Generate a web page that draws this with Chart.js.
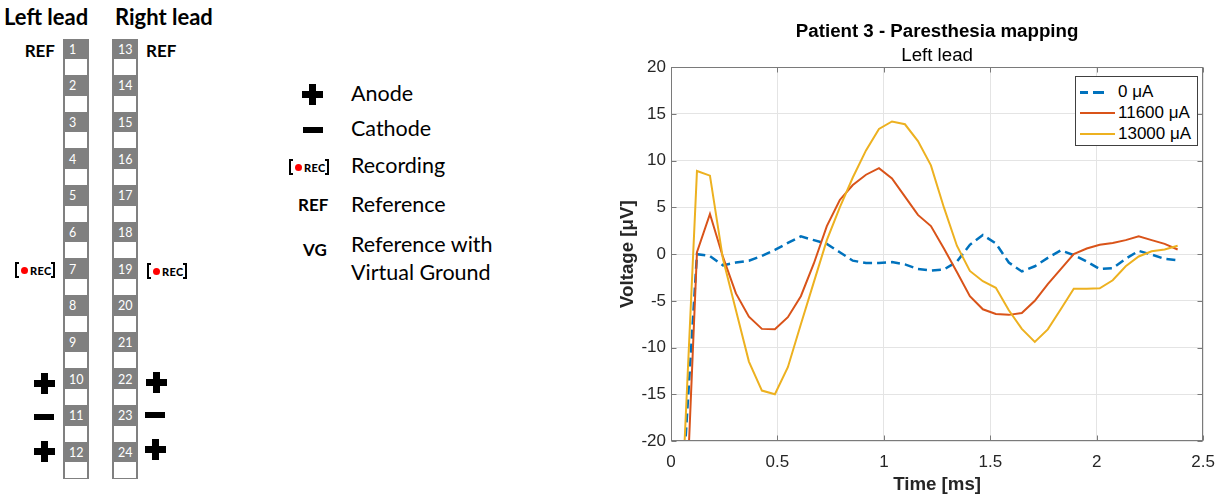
<!DOCTYPE html>
<html><head><meta charset="utf-8">
<script src="https://cdn.jsdelivr.net/npm/chart.js@4/dist/chart.umd.min.js"></script>
<style>
html,body{margin:0;padding:0;background:#fff;}
#page{position:relative;width:1226px;height:496px;overflow:hidden;font-family:Lato,"Open Sans",sans-serif;color:#000;}
.t{position:absolute;line-height:1;white-space:nowrap;transform:translateY(-50%);}
.hd{font-weight:700;font-size:22px;}
.col{position:absolute;width:26px;height:440px;background:#808080;}
.win{position:absolute;left:2px;width:22px;height:16px;background:#fff;}
.num{position:absolute;left:6px;color:#fff;font-size:12.5px;line-height:12px;}
.tag{font-weight:700;font-size:17px;}
.plus{position:absolute;width:21px;height:21px;}
.plus::before{content:"";position:absolute;left:0;top:7px;width:21px;height:7px;background:#000;}
.plus::after{content:"";position:absolute;left:7px;top:0;width:7px;height:21px;background:#000;}
.minus{position:absolute;width:20px;height:6px;background:#000;}
.rec{position:absolute;display:flex;align-items:center;height:16px;transform:translateY(-50%);}
.rec .bl,.rec .br{width:2px;height:12px;border:2px solid #000;}
.rec .bl{border-right:none;}
.rec .br{border-left:none;}
.rec .dot{width:7px;height:7px;border-radius:50%;background:#f00;margin:0 2px 0 2px;}
.rec b{font-size:11px;line-height:1;font-weight:900;letter-spacing:0.3px;}
.lg{left:351px;font-size:21.5px;}
#chartBox{position:absolute;left:590px;top:0;width:636px;height:496px;}
#legend{position:absolute;left:1075px;top:76px;width:123px;height:70px;border:1px solid #404040;background:#fff;box-sizing:border-box;font-family:"Liberation Sans",Arial,sans-serif;font-size:17px;color:#000;}
#legend .row{position:absolute;left:0;width:120px;height:20px;}
#legend .smp{position:absolute;left:4px;top:9px;width:35px;height:2px;}
#legend .lab{position:absolute;left:42px;top:0;line-height:20px;white-space:nowrap;}
</style>
</head>
<body>
<div id="page">
  <div class="t hd" style="left:4px;top:17px;">Left lead</div>
  <div class="t hd" style="left:115px;top:17px;">Right lead</div>
  <div id="colL" class="col" style="left:63px;top:39px;"></div>
  <div id="colR" class="col" style="left:112px;top:39px;"></div>

  <div class="t tag" style="right:1171px;top:50px;">REF</div>
  <div class="t tag" style="left:146px;top:50px;">REF</div>

  <div class="rec" style="left:15px;top:270px;"><span class="bl"></span><span class="dot"></span><b>REC</b><span class="br"></span></div>
  <div class="rec" style="left:147px;top:271px;"><span class="bl"></span><span class="dot"></span><b>REC</b><span class="br"></span></div>

  <div class="plus" style="left:34px;top:373px;"></div>
  <div class="plus" style="left:146px;top:372px;"></div>
  <div class="minus" style="left:34px;top:414px;"></div>
  <div class="minus" style="left:145px;top:412px;"></div>
  <div class="plus" style="left:34px;top:441px;"></div>
  <div class="plus" style="left:145px;top:439px;"></div>

  <div class="plus" style="left:302px;top:84px;"></div>
  <div class="minus" style="left:303px;top:127px;"></div>
  <div class="rec" style="left:289px;top:167px;"><span class="bl"></span><span class="dot"></span><b>REC</b><span class="br"></span></div>
  <div class="t tag" style="left:298px;top:204px;">REF</div>
  <div class="t tag" style="left:303px;top:249px;">VG</div>

  <div class="t lg" style="top:94px;">Anode</div>
  <div class="t lg" style="top:129px;">Cathode</div>
  <div class="t lg" style="top:165.5px;">Recording</div>
  <div class="t lg" style="top:204.5px;">Reference</div>
  <div class="t lg" style="top:244.5px;">Reference with</div>
  <div class="t lg" style="top:272.5px;">Virtual Ground</div>

  <div id="chartBox"><canvas id="c"></canvas></div>
  <div id="legend"></div>
</div>
<script>
// ---------------- data ----------------
const times = [0.061, 0.122, 0.183, 0.244, 0.305, 0.366, 0.427, 0.488, 0.549, 0.610,
               0.671, 0.732, 0.793, 0.854, 0.916, 0.977, 1.038, 1.099, 1.160, 1.221,
               1.282, 1.343, 1.404, 1.465, 1.526, 1.587, 1.648, 1.709, 1.770, 1.831,
               1.892, 1.953, 2.014, 2.075, 2.136, 2.197, 2.258, 2.319, 2.380];
const v0uA = [-22.5, 0.0, -0.2, -1.2, -0.9, -0.7, -0.2, 0.45, 1.2, 1.9,
              1.5, 1.1, 0.2, -0.7, -0.95, -0.95, -0.85, -1.1, -1.6, -1.75,
              -1.65, -0.8, 1.0, 2.05, 1.15, -0.9, -1.85, -1.3, -0.4, 0.4,
              -0.1, -0.8, -1.6, -1.5, -0.5, 0.35, -0.05, -0.5, -0.65];
const v11600uA = [-33, 0.2, 4.3, -0.3, -4.2, -6.7, -8.0, -8.05, -6.75, -4.5,
                  -1.0, 3.0, 5.8, 7.4, 8.5, 9.2, 8.1, 6.15, 4.2, 3.0,
                  0.6, -1.9, -4.5, -5.9, -6.4, -6.5, -6.3, -5.0, -3.2, -1.6,
                  0.0, 0.6, 1.0, 1.2, 1.5, 1.9, 1.5, 1.1, 0.5];
const v13000uA = [-21.5, 8.9, 8.4, -0.5, -6.0, -11.5, -14.6, -15.0, -12.1, -7.5,
                  -3.0, 1.5, 5.0, 8.2, 11.1, 13.4, 14.2, 13.9, 12.1, 9.5,
                  5.0, 0.9, -1.8, -2.9, -3.6, -6.0, -8.0, -9.4, -8.05, -5.9,
                  -3.7, -3.7, -3.65, -2.8, -1.3, -0.25, 0.3, 0.5, 0.9];
const seriesLabels = ['0 μA', '11600 μA', '13000 μA'];
const seriesColors = ['#0072BD', '#D95319', '#EDB120'];
const xTickValues = [0, 0.5, 1, 1.5, 2, 2.5];
const yTickValues = [-20, -15, -10, -5, 0, 5, 10, 15, 20];
const leftContacts = [1,2,3,4,5,6,7,8,9,10,11,12];
const rightContacts = [13,14,15,16,17,18,19,20,21,22,23,24];

// ---------------- lead diagram ----------------
function buildCol(id, nums){
  const col = document.getElementById(id);
  const P = 36.67;
  nums.forEach((n,k)=>{
    const num = document.createElement('div');
    num.className = 'num';
    num.style.top = (k*P + 4.5) + 'px';
    num.textContent = n;
    col.appendChild(num);
    const w = document.createElement('div');
    w.className = 'win';
    w.style.top = (k*P + 20) + 'px';
    col.appendChild(w);
  });
}
buildCol('colL', leftContacts);
buildCol('colR', rightContacts);

// ---------------- legend ----------------
const legend = document.getElementById('legend');
const rowTops = [5, 25.5, 47];
seriesLabels.forEach((lab,i)=>{
  const row = document.createElement('div');
  row.className = 'row';
  row.style.top = rowTops[i] + 'px';
  if (i === 0) {
    row.innerHTML = '<div class="smp" style="width:8px;background:'+seriesColors[0]+';height:2.5px"></div>' +
                    '<div class="smp" style="left:17px;width:11px;background:'+seriesColors[0]+';height:2.5px"></div>';
  } else {
    row.innerHTML = '<div class="smp" style="background:'+seriesColors[i]+'"></div>';
  }
  const t = document.createElement('div');
  t.className = 'lab';
  t.textContent = lab;
  row.appendChild(t);
  legend.appendChild(row);
});

// ---------------- chart ----------------
const FONT = "'Liberation Sans', Arial, Helvetica, sans-serif";
const toXY = arr => arr.map((v,i)=>({x: times[i], y: v}));

const boxPlugin = {
  id: 'boxPlugin',
  afterDraw(chart){
    const {ctx, chartArea: a, scales:{x, y}} = chart;
    ctx.save();
    ctx.strokeStyle = '#7a7a7a';
    ctx.lineWidth = 1;
    const L = Math.round(a.left)+0.5, R = Math.round(a.right)-0.5, T = Math.round(a.top)+0.5, B = Math.round(a.bottom)-0.5;
    ctx.strokeRect(L, T, R-L, B-T);
    ctx.beginPath();
    const tl = 5;
    xTickValues.forEach(v=>{
      const px = Math.round(x.getPixelForValue(v)) + 0.5;
      ctx.moveTo(px, B); ctx.lineTo(px, B - tl);
      ctx.moveTo(px, T); ctx.lineTo(px, T + tl);
    });
    yTickValues.forEach(v=>{
      const py = Math.round(y.getPixelForValue(v)) + 0.5;
      ctx.moveTo(L, py); ctx.lineTo(L + tl, py);
      ctx.moveTo(R, py); ctx.lineTo(R - tl, py);
    });
    ctx.stroke();
    ctx.restore();
  }
};

new Chart(document.getElementById('c'), {
  type: 'line',
  data: {
    datasets: [
      {label: seriesLabels[0], data: toXY(v0uA), borderColor: seriesColors[0], borderWidth: 2.5, borderDash: [9,5], pointRadius: 0, fill: false, tension: 0, clip: 0, order: 3},
      {label: seriesLabels[1], data: toXY(v11600uA), borderColor: seriesColors[1], borderWidth: 2, pointRadius: 0, fill: false, tension: 0, clip: 0, order: 2},
      {label: seriesLabels[2], data: toXY(v13000uA), borderColor: seriesColors[2], borderWidth: 2, pointRadius: 0, fill: false, tension: 0, clip: 0, order: 1}
    ]
  },
  options: {
    responsive: true,
    maintainAspectRatio: false,
    animation: false,
    devicePixelRatio: 1,
    events: [],
    layout: {padding: {left: 0, right: 21, top: 0, bottom: 0}},
    plugins: {
      legend: {display: false},
      tooltip: {enabled: false},
      title: {display: true, fullSize: false, text: 'Patient 3 - Paresthesia mapping', color: '#000',
              font: {family: FONT, size: 18.7, weight: 'bold'}, padding: {top: 21, bottom: 0}},
      subtitle: {display: true, fullSize: false, text: 'Left lead', color: '#000',
              font: {family: FONT, size: 18.7, weight: 'normal'}, padding: {top: 1, bottom: 0.4}}
    },
    scales: {
      x: {
        type: 'linear', min: 0, max: 2.5,
        afterBuildTicks: s => { s.ticks = xTickValues.map(v => ({value: v})); },
        afterFit: s => { s.height = 55; },
        ticks: {color: '#262626', font: {family: FONT, size: 17}, padding: 11, maxRotation: 0, callback: v => String(v)},
        grid: {color: '#e4e4e4', lineWidth: 1, drawTicks: false},
        border: {display: false},
        title: {display: true, text: 'Time [ms]', color: '#262626', font: {family: FONT, size: 18.7, weight: 'bold'}, padding: {top: 0, bottom: 0}}
      },
      y: {
        type: 'linear', min: -20, max: 20,
        afterBuildTicks: s => { s.ticks = yTickValues.map(v => ({value: v})); },
        afterFit: s => { s.width = 81; },
        ticks: {color: '#262626', font: {family: FONT, size: 17}, padding: 5, callback: v => String(v)},
        grid: {color: '#e4e4e4', lineWidth: 1, drawTicks: false},
        border: {display: false},
        title: {display: true, text: 'Voltage [μV]', color: '#262626', font: {family: FONT, size: 18.7, weight: 'bold'}, padding: {top: 27, bottom: 0}}
      }
    }
  },
  plugins: [boxPlugin]
});
</script>
</body></html>
